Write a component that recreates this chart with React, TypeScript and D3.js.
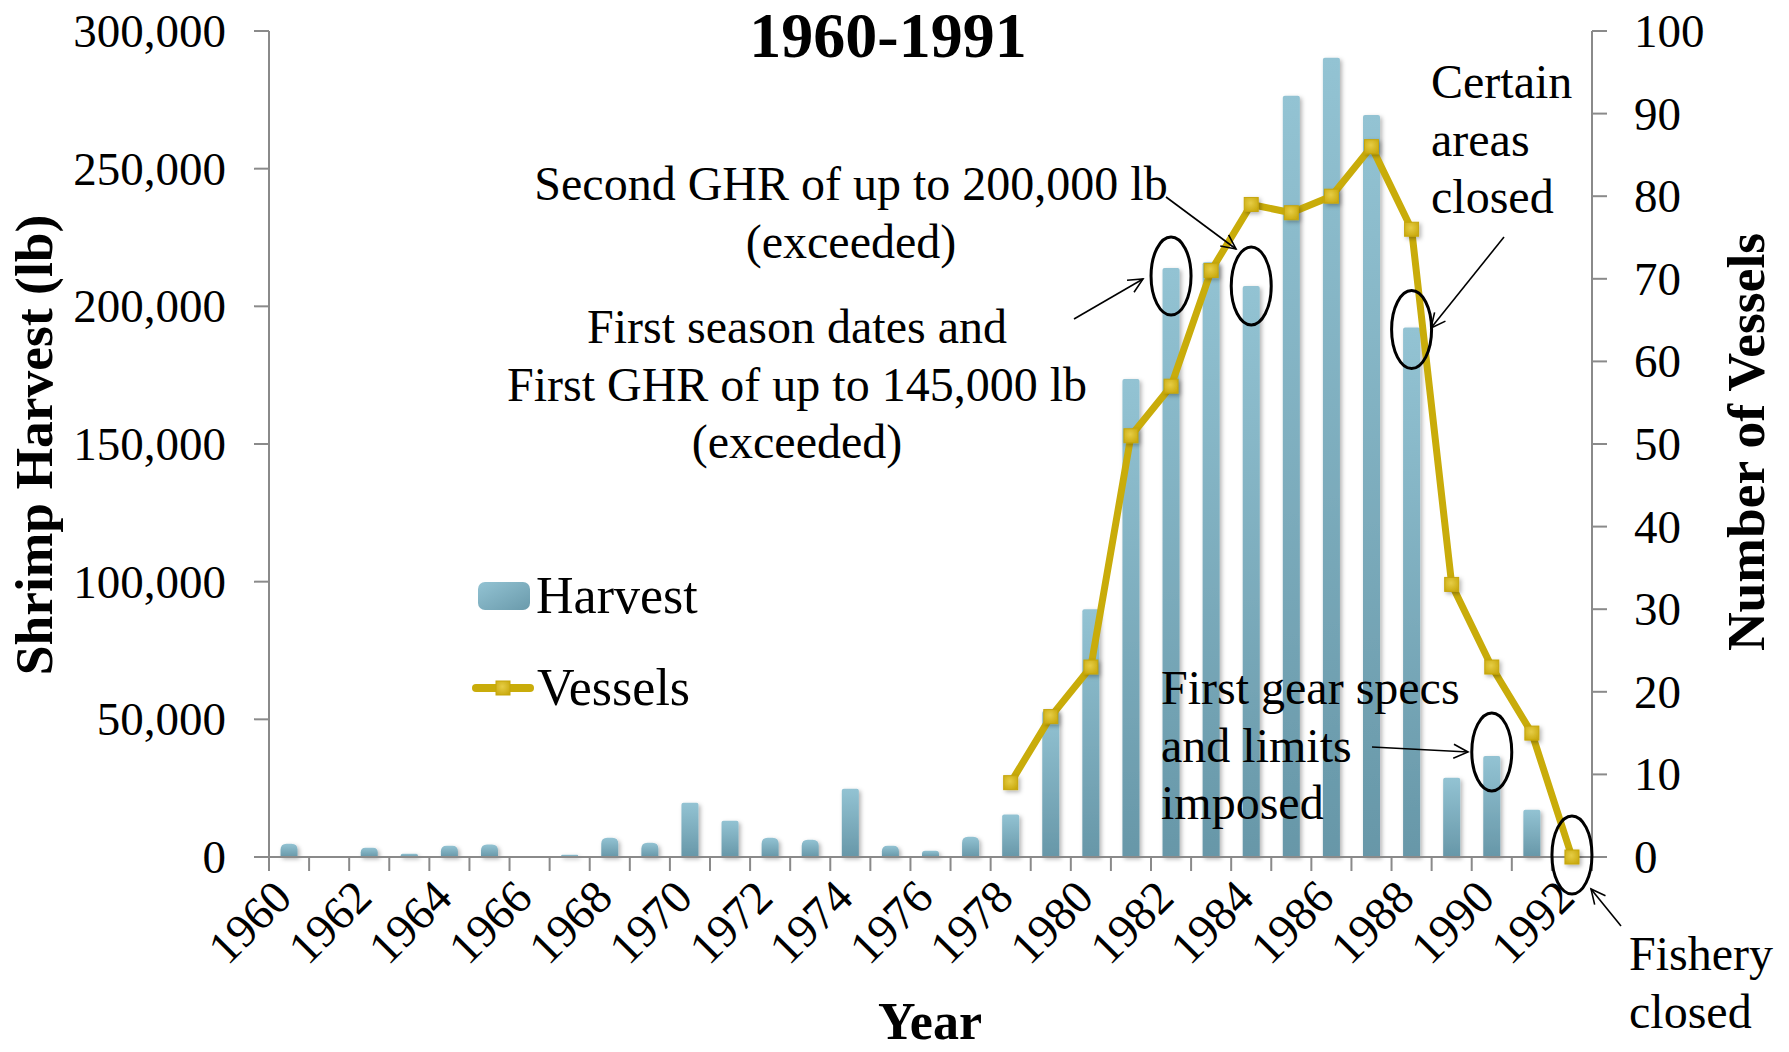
import React from 'react';
import * as d3 from 'd3';

const years = [1960, 1961, 1962, 1963, 1964, 1965, 1966, 1967, 1968, 1969, 1970, 1971, 1972, 1973, 1974, 1975, 1976, 1977, 1978, 1979, 1980, 1981, 1982, 1983, 1984, 1985, 1986, 1987, 1988, 1989, 1990, 1991, 1992];
const harvest: (number | null)[] = [4800, 0, 3400, 1200, 4100, 4500, 0, 800, 7000, 5200, 19700, 13200, 7000, 6300, 24800, 4100, 2300, 7400, 15400, 53000, 90000, 173600, 213900, 216000, 207400, 276500, 290300, 269500, 192300, 28800, 36700, 17200, null];
const vessels: (number | null)[] = [null, null, null, null, null, null, null, null, null, null, null, null, null, null, null, null, null, null, 9, 17, 23, 51, 57, 71, 79, 78, 80, 86, 76, 33, 23, 15, 0];
const leftTicks = [0, 50000, 100000, 150000, 200000, 250000, 300000];
const rightTicks = [0, 10, 20, 30, 40, 50, 60, 70, 80, 90, 100];
const xTickLabels = [1960, 1962, 1964, 1966, 1968, 1970, 1972, 1974, 1976, 1978, 1980, 1982, 1984, 1986, 1988, 1990, 1992];

const title = '1960-1991';
const leftTitle = 'Shrimp Harvest (lb)';
const rightTitle = 'Number of Vessels';
const xTitle = 'Year';

// ellipse annotations: year, series, vertical offset from mark top
const circled = [
  { year: 1982, on: 'h', dy: 8 },
  { year: 1984, on: 'h', dy: 0 },
  { year: 1988, on: 'h', dy: 2 },
  { year: 1990, on: 'h', dy: -4 },
  { year: 1992, on: 'v', dy: -2 },
];

const textNotes = [
  { lines: ['Second GHR of up to 200,000 lb', '(exceeded)'], x: 851, y: 200, anchor: 'middle' },
  { lines: ['First season dates and', 'First GHR of up to 145,000 lb', '(exceeded)'], x: 797, y: 343, anchor: 'middle' },
  { lines: ['Certain', 'areas', 'closed'], x: 1431, y: 98, anchor: 'start' },
  { lines: ['First gear specs', 'and limits', 'imposed'], x: 1161, y: 704, anchor: 'start' },
  { lines: ['Fishery', 'closed'], x: 1629, y: 970, anchor: 'start' },
];

const arrows = [
  { x1: 1074, y1: 319, x2: 1143, y2: 279 },
  { x1: 1166, y1: 197, x2: 1236, y2: 249 },
  { x1: 1504, y1: 237, x2: 1431, y2: 328 },
  { x1: 1372, y1: 747, x2: 1468, y2: 752 },
  { x1: 1621, y1: 926, x2: 1591, y2: 889 },
];

const W = 1789;
const H = 1052;
const FONT = '"Liberation Serif", "Times New Roman", serif';
const AX = '#8a8a8a';
const GOLD = '#c9ac0a';

export default function App() {
  const x = d3.scaleBand<string>().domain(years.map(String)).range([269, 1592]).paddingInner(0).paddingOuter(0);
  const yL = d3.scaleLinear().domain([0, 300000]).range([857, 31]);
  const yR = d3.scaleLinear().domain([0, 100]).range([857, 31]);
  const bw = x.bandwidth() * 0.425;
  const cx = (yr: number) => (x(String(yr)) as number) + x.bandwidth() / 2;

  const pts = years.map((yr, i) => ({ yr, v: vessels[i] }));
  const line = d3
    .line<{ yr: number; v: number | null }>()
    .defined((d) => d.v != null)
    .x((d) => cx(d.yr))
    .y((d) => yR(d.v as number));

  const barPath = (x0: number, w: number, top: number, bottom: number) => {
    const h = bottom - top;
    const r = h < 30 ? Math.min(6, h / 2) : 2;
    return `M${x0},${bottom} L${x0},${top + r} Q${x0},${top} ${x0 + r},${top} L${x0 + w - r},${top} Q${x0 + w},${top} ${x0 + w},${top + r} L${x0 + w},${bottom} Z`;
  };

  const arrowHead = (a: { x1: number; y1: number; x2: number; y2: number }) => {
    const ang = Math.atan2(a.y2 - a.y1, a.x2 - a.x1);
    const L = 16;
    const s = 0.45;
    const p1 = [a.x2 - L * Math.cos(ang - s), a.y2 - L * Math.sin(ang - s)];
    const p2 = [a.x2 - L * Math.cos(ang + s), a.y2 - L * Math.sin(ang + s)];
    return `M${p1[0]},${p1[1]} L${a.x2},${a.y2} L${p2[0]},${p2[1]}`;
  };

  const boundaries = [...years.map((yr) => x(String(yr)) as number), 1592];

  return (
    <svg width={W} height={H} viewBox={`0 0 ${W} ${H}`} style={{ position: 'absolute', left: 0, top: 0, background: '#fff' }} fontFamily={FONT}>
      <defs>
        <linearGradient id="barGrad" x1="0" y1="0" x2="0" y2="1">
          <stop offset="0%" stopColor="#93c3d3" />
          <stop offset="100%" stopColor="#6797a8" />
        </linearGradient>
        <linearGradient id="legGrad" x1="0" y1="0" x2="1" y2="1">
          <stop offset="0%" stopColor="#93c3d3" />
          <stop offset="100%" stopColor="#6a9aab" />
        </linearGradient>
        <radialGradient id="mkGrad" cx="0.45" cy="0.4" r="0.7">
          <stop offset="0%" stopColor="#e6cd45" />
          <stop offset="100%" stopColor="#c8a80c" />
        </radialGradient>
        <filter id="shadow" x="-50%" y="-50%" width="200%" height="200%">
          <feDropShadow dx="2" dy="2" stdDeviation="2" floodColor="#000" floodOpacity="0.3" />
        </filter>
      </defs>

      {/* title */}
      <text x={888} y={57} fontSize={64} fontWeight="bold" textAnchor="middle">{title}</text>

      {/* bars */}
      <g filter="url(#shadow)">
        {years.map((yr, i) => {
          const v = harvest[i];
          if (v == null || v <= 0) return null;
          const x0 = cx(yr) - bw / 2;
          return <path key={yr} d={barPath(x0, bw, yL(v), yL(0))} fill="url(#barGrad)" />;
        })}
      </g>

      {/* axes */}
      <line x1={269} y1={31} x2={269} y2={857} stroke={AX} strokeWidth={2} />
      {leftTicks.map((t) => (
        <g key={t}>
          <line x1={254} x2={269} y1={yL(t)} y2={yL(t)} stroke={AX} strokeWidth={2} />
          <text x={226} y={yL(t) + 16} fontSize={47} textAnchor="end">{d3.format(',')(t)}</text>
        </g>
      ))}
      <line x1={1592} y1={31} x2={1592} y2={857} stroke={AX} strokeWidth={2} />
      {rightTicks.map((t) => (
        <g key={t}>
          <line x1={1592} x2={1607} y1={yR(t)} y2={yR(t)} stroke={AX} strokeWidth={2} />
          <text x={1634} y={yR(t) + 16} fontSize={47} textAnchor="start">{t}</text>
        </g>
      ))}
      <line x1={269} y1={857} x2={1592} y2={857} stroke={AX} strokeWidth={2} />
      {boundaries.map((b, i) => (
        <line key={i} x1={b} x2={b} y1={857} y2={871} stroke={AX} strokeWidth={2} />
      ))}
      {xTickLabels.map((yr) => (
        <text key={yr} x={cx(yr) + 5} y={900} fontSize={47} textAnchor="end" transform={`rotate(-45 ${cx(yr) + 5} 900)`}>{yr}</text>
      ))}

      {/* vessels line */}
      <path d={line(pts) || ''} fill="none" stroke={GOLD} strokeWidth={7} strokeLinejoin="round" />
      <g filter="url(#shadow)">
        {pts.filter((d) => d.v != null).map((d) => (
          <rect key={d.yr} x={cx(d.yr) - 7} y={yR(d.v as number) - 7} width={14} height={14} fill="url(#mkGrad)" stroke="#c6a60a" strokeWidth={1} />
        ))}
      </g>

      {/* axis titles */}
      <text transform={`translate(52,445) rotate(-90)`} fontSize={53.5} fontWeight="bold" textAnchor="middle">{leftTitle}</text>
      <text transform={`translate(1764,442) rotate(-90)`} fontSize={53.5} fontWeight="bold" textAnchor="middle">{rightTitle}</text>
      <text x={930} y={1039} fontSize={52} fontWeight="bold" textAnchor="middle">{xTitle}</text>

      {/* legend */}
      <rect x={478} y={582} width={52} height={28} rx={7} fill="url(#legGrad)" />
      <text x={536} y={613} fontSize={52}>Harvest</text>
      <line x1={476} x2={530} y1={688} y2={688} stroke={GOLD} strokeWidth={8} strokeLinecap="round" />
      <rect x={496} y={681} width={14} height={14} fill="url(#mkGrad)" stroke="#c6a60a" strokeWidth={1} />
      <text x={537} y={705} fontSize={52}>Vessels</text>

      {/* annotations */}
      {textNotes.map((n, i) => (
        <text key={i} fontSize={48} textAnchor={n.anchor as any}>
          {n.lines.map((l, j) => (
            <tspan key={j} x={n.x} y={n.y + j * 57.5}>{l}</tspan>
          ))}
        </text>
      ))}
      {circled.map((c) => {
        const i = years.indexOf(c.year);
        const top = c.on === 'h' ? yL(harvest[i] as number) : yR(vessels[i] as number);
        return <ellipse key={c.year} cx={cx(c.year)} cy={top + c.dy} rx={20} ry={39} fill="none" stroke="#000" strokeWidth={3} />;
      })}
      {arrows.map((a, i) => (
        <g key={i} stroke="#000" strokeWidth={1.6} fill="none">
          <line x1={a.x1} y1={a.y1} x2={a.x2} y2={a.y2} />
          <path d={arrowHead(a)} />
        </g>
      ))}
    </svg>
  );
}
